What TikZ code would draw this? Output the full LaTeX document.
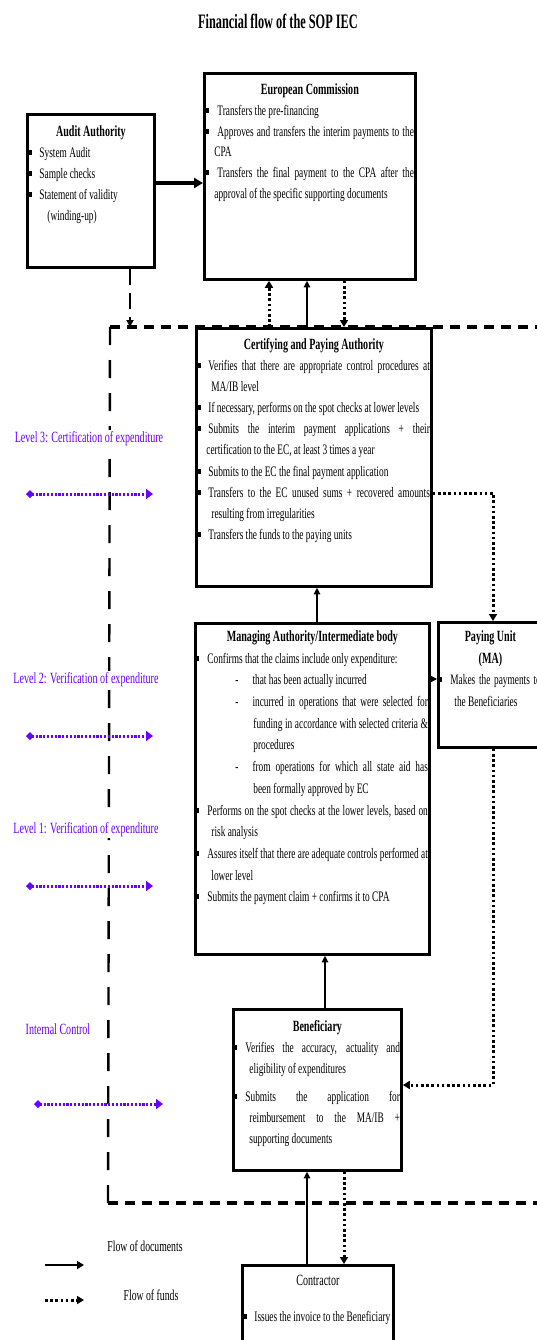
\documentclass[tikz,border=0pt]{standalone}
\usepackage{fontspec}
\setmainfont[FakeStretch=0.645]{Liberation Serif}
\newfontfamily\hovedfont[FakeStretch=0.6]{Liberation Serif}
\usetikzlibrary{arrows.meta}

\definecolor{niva}{RGB}{106,0,255}

% Innrykk for punkter i boksene
\newlength{\kulex}\setlength{\kulex}{2pt}
\newlength{\tekstx}\setlength{\tekstx}{12pt}
\newcommand{\kule}{\rule[2.5pt]{2.5pt}{5pt}}
\newcommand{\kpn}[1]{\hbox{\hskip\kulex\kule\hskip\dimexpr\tekstx-\kulex-2.5pt\relax #1}}
\newcommand{\kpj}[1]{\hbox to\dimexpr\hsize-1.5pt{\hskip\kulex\kule\hskip\dimexpr\tekstx-\kulex-2.5pt\relax #1}}
\newcommand{\lin}[2]{\hbox{\hskip#1\relax #2}}
\newcommand{\linj}[2]{\hbox to\dimexpr\hsize-1.5pt{\hskip#1\relax #2}}
\newcommand{\overskrift}[2][\bfseries]{\hbox to\hsize{\hfil\vrule height 11pt width 0pt\fontsize{15.6}{20}\selectfont#1#2\hfil}}
\newcommand{\boksinnhold}[4]{\vbox to #2{\hsize=#1\relax\kern#3\relax #4\vfil}}

\begin{document}
\begin{tikzpicture}[x=1pt, y=-1pt,
	boks/.style={draw, fill=white, line width=2.8pt, inner sep=0pt, anchor=north west, font=\fontsize{14.5}{20.7}\selectfont},
	dokpil/.style={line width=1.3pt, -{Triangle[length=6.5pt,width=6.5pt]}},
	fondpil/.style={line width=3pt, dash pattern=on 2.6pt off 2.6pt, -{Triangle[length=7pt,width=8pt]}},
	nivapil/.style={niva, line width=3pt, dash pattern=on 2.2pt off 1.6pt, {Diamond[length=8pt,width=8pt]}-{Triangle[length=7pt,width=10pt]}},
	nivatekst/.style={text=niva, fill=white, inner sep=1.5pt, anchor=base, font=\fontsize{15.6}{18}\selectfont},
	ramme/.style={line width=4pt, dash pattern=on 10pt off 7pt}]
	\useasboundingbox (0,0) rectangle (537,1340);
	
	% Tittel
	\node[anchor=base, font=\hovedfont\bfseries\fontsize{20.5}{24}\selectfont] (tittel) at (278,29) {Financial flow of the SOP IEC};
	
	% Stiplet ramme
	\coordinate (ramme-nv) at (110,327);
	\coordinate (ramme-sv) at (108,1203);
	\draw[ramme] (ramme-nv) -- (560,327);
	\draw[line width=2.4pt, dash pattern=on 18pt off 15pt] (ramme-nv) -- (ramme-sv);
	\draw[ramme] (ramme-sv) -- (560,1203);
	
	% Nivaene til venstre
	\node[nivatekst] (niva3) at (89,442) {Level 3: Certification of expenditure};
	\node[nivatekst] (niva2) at (86,683) {Level 2: Verification of expenditure};
	\node[nivatekst] (niva1) at (86,833) {Level 1: Verification of expenditure};
	\node[nivatekst] (intern) at (58,1034) {Internal Control};
	\foreach \y in {494,736,886}
	\draw[nivapil] (26,\y) -- (153,\y);
	\draw[nivapil] (34,1104) -- (163,1104);
	
	% European Commission
	\node[boks] (ec) at (203,72) {\boksinnhold{211pt}{206pt}{10pt}{\baselineskip=20.8pt \tekstx=13pt
		\overskrift{European Commission}
		\kpn{Transfers the pre-financing}
		\kpj{Approves and transfers the interim payments to the}
		\lin{10pt}{CPA}
		\kpj{Transfers the final payment to the CPA after the}
		\lin{10pt}{approval of the specific supporting documents}}};
	
	% Audit Authority
	\node[boks] (audit) at (26,113) {\boksinnhold{127pt}{153pt}{11pt}{\baselineskip=21pt
		\overskrift{Audit Authority}
		\kpn{System Audit}
		\kpn{Sample checks}
		\kpn{Statement of validity}
		\lin{20pt}{(winding-up)}}};
	
	% Certifying and Paying Authority
	\node[boks] (cpa) at (195,327) {\boksinnhold{235pt}{258pt}{10pt}{\baselineskip=21.1pt
		\overskrift{Certifying and Paying Authority}
		\kpj{Verifies that there are appropriate control procedures at}
		\lin{15pt}{MA/IB level}
		\kpn{If necessary, performs on the spot checks at lower levels}
		\kpj{Submits the interim payment applications + their}
		\lin{10pt}{certification to the EC, at least 3 times a year}
		\kpn{Submits to the EC the final payment application}
		\kpj{Transfers to the EC unused sums + recovered amounts}
		\lin{15pt}{resulting from irregularities}
		\kpn{Transfers the funds to the paying units}}};
	
	% Managing Authority/Intermediate body
	\node[boks] (mab) at (194,622) {\boksinnhold{234pt}{331pt}{7pt}{\baselineskip=21.7pt \kulex=1pt
		\overskrift{Managing Authority/Intermediate body}
		\kpn{Confirms that the claims include only expenditure:}
		\lin{40pt}{-\hskip14pt that has been actually incurred}
		\linj{40pt}{-\hskip14pt incurred in operations that were selected for}
		\linj{58pt}{funding in accordance with selected criteria \&}
		\lin{58pt}{procedures}
		\linj{40pt}{-\hskip14pt from operations for which all state aid has}
		\lin{58pt}{been formally approved by EC}
		\kpj{Performs on the spot checks at the lower levels, based on}
		\lin{16pt}{risk analysis}
		\kpj{Assures itself that there are adequate controls performed at}
		\lin{16pt}{lower level}
		\kpn{Submits the payment claim + confirms it to CPA}}};
	
	% Paying Unit
	\node[boks] (pu) at (437,621) {\boksinnhold{104pt}{125pt}{8pt}{\baselineskip=21.7pt \kulex=1pt
		\overskrift{Paying Unit}
		\overskrift{(MA)}
		\kpj{Makes the payments to}
		\lin{16pt}{the Beneficiaries}}};
	
	% Beneficiary
	\node[boks] (ben) at (232,1008) {\boksinnhold{168pt}{161pt}{11pt}{\baselineskip=21pt \kulex=1pt
		\overskrift{Beneficiary}
		\kpj{Verifies the accuracy, actuality and}
		\lin{16pt}{eligibility of expenditures}
		\kern7pt
		\kpj{Submits the application for}
		\linj{16pt}{reimbursement to the MA/IB +}
		\lin{16pt}{supporting documents}}};
	
	% Contractor
	\node[boks] (con) at (241,1264) {\boksinnhold{151pt}{90pt}{9pt}{
		\overskrift[\mdseries]{Contractor}
		\kern15pt
		\kpn{Issues the invoice to the Beneficiary}}};
	
	% Piler mellom boksene
	\draw[line width=3.5pt, -{Triangle[length=9pt,width=10pt]}] (audit.east |- 0,183) -- (ec.west |- 0,183);
	\draw[line width=2.4pt, dash pattern=on 16pt off 8pt, -{Triangle[length=7pt,width=7pt]}] (audit.south -| 130,0) -- (ramme-nv -| 130,0);
	\draw[fondpil] (cpa.north -| 269,0) -- (ec.south -| 269,0);
	\draw[dokpil] (cpa.north -| 307,0) -- (ec.south -| 307,0);
	\draw[fondpil] (ec.south -| 344,0) -- (cpa.north -| 344,0);
	\draw[fondpil] (cpa.east |- 0,493) -| (pu.north -| 493,0);
	\draw[dokpil] (mab.north -| 317,0) -- (cpa.south -| 317,0);
	\draw[dokpil] (mab.east |- 0,679) -- (pu.west |- 0,679);
	\draw[fondpil] (pu.south -| 493,0) |- (ben.east |- 0,1085);
	\draw[dokpil] (ben.north -| 325,0) -- (mab.south -| 325,0);
	\draw[dokpil] (con.north -| 307,0) -- (ben.south -| 307,0);
	\draw[fondpil] (ben.south -| 344,0) -- (con.north -| 344,0);
	
	% Forklaring
	\coordinate (dok-fra) at (45,1265);
	\coordinate (dok-til) at (84,1265);
	\draw[line width=2.2pt, -{Triangle[length=7pt,width=8pt]}] (dok-fra) -- (dok-til);
	\node[anchor=base, font=\fontsize{15.1}{18}\selectfont] (dok-tekst) at (145,1251) {Flow of documents};
	\coordinate (fond-fra) at (45,1300);
	\coordinate (fond-til) at (84,1300);
	\draw[fondpil] (fond-fra) -- (fond-til);
	\node[anchor=base, font=\fontsize{15.1}{18}\selectfont] (fond-tekst) at (151,1300) {Flow of funds};
\end{tikzpicture}
\end{document}
